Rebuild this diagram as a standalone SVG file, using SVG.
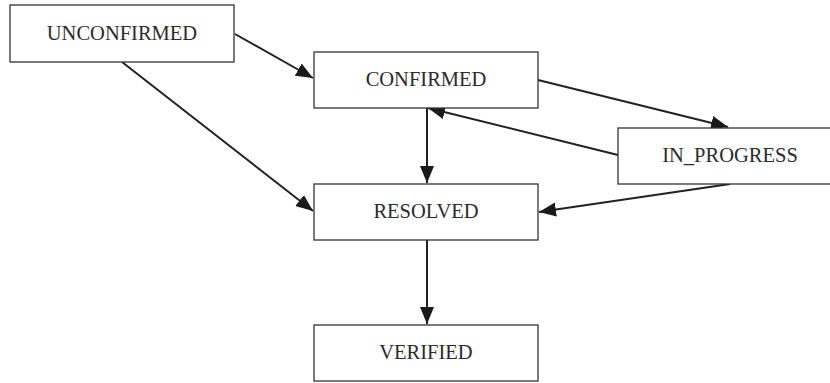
<svg xmlns="http://www.w3.org/2000/svg" width="830" height="383" viewBox="0 0 830 383">
<style>
.box{fill:#fff;stroke:#333;stroke-width:1.3}
.lbl{font-family:"Liberation Serif","DejaVu Serif",serif;font-size:20.5px;fill:#2b2b2b;text-anchor:middle;dominant-baseline:central}
.edge{stroke:#222;stroke-width:2;fill:none;marker-end:url(#ah)}
</style>
<defs>
<marker id="ah" markerUnits="userSpaceOnUse" markerWidth="18" markerHeight="16" refX="17" refY="8" orient="auto">
<path d="M0,1 L17,8 L0,15 z" fill="#1a1a1a"/>
</marker>
</defs>
<rect width="830" height="383" fill="#fff"/>
<g id="edges">
<line class="edge" x1="235" y1="34" x2="313" y2="78"/>
<line class="edge" x1="122" y1="62" x2="313" y2="211"/>
<line class="edge" x1="538" y1="80" x2="728" y2="127"/>
<line class="edge" x1="618" y1="155" x2="428" y2="108"/>
<line class="edge" x1="427" y1="108" x2="427" y2="183"/>
<line class="edge" x1="730" y1="184" x2="539" y2="212"/>
<line class="edge" x1="427" y1="240" x2="427" y2="324"/>
</g>
<g id="UNCONFIRMED"><rect class="box" x="10" y="5" width="224" height="57"/><text class="lbl" x="122" y="33">UNCONFIRMED</text></g>
<g id="CONFIRMED"><rect class="box" x="314" y="52" width="224" height="56"/><text class="lbl" x="426" y="79">CONFIRMED</text></g>
<g id="IN_PROGRESS"><rect class="box" x="618" y="128" width="224" height="56"/><text class="lbl" x="730" y="155">IN_PROGRESS</text></g>
<g id="RESOLVED"><rect class="box" x="314" y="184" width="224" height="56"/><text class="lbl" x="426" y="211">RESOLVED</text></g>
<g id="VERIFIED"><rect class="box" x="314" y="325" width="224" height="56"/><text class="lbl" x="426" y="352">VERIFIED</text></g>
</svg>
